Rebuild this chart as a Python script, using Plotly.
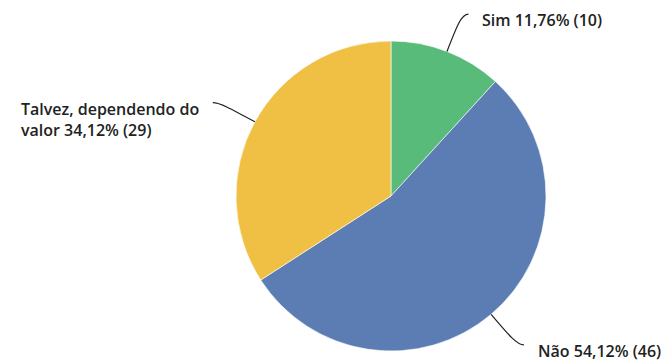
import math
import plotly.graph_objects as go

labels = ["Sim", "Não", "Talvez, dependendo do valor"]
label_text = ["Sim 11,76% (10)", "Não 54,12% (46)", "Talvez, dependendo do<br>valor 34,12% (29)"]
counts = [10, 46, 29]
percents = [11.76, 54.12, 34.12]
colors = ["#58BB7A", "#5B7DB3", "#EFC044"]

W, H = 668, 361
CX, CY, R = 391, 196, 155  # pie centre / radius in pixels

fig = go.Figure()
fig.add_trace(go.Pie(
    labels=labels, values=counts, sort=False, direction="clockwise", rotation=0,
    marker=dict(colors=colors, line=dict(color="white", width=0.6)),
    textinfo="none", hoverinfo="label+value+percent", showlegend=False,
    domain=dict(x=[(CX - R) / W, (CX + R) / W], y=[(H - CY - R) / H, (H - CY + R) / H]),
))

def px(x, y):
    return x / W, 1 - y / H

total = sum(counts)
shapes, annots = [], []
cum = 0
for lab, txt, c in zip(labels, label_text, counts):
    mid = (cum + c / 2) / total * 2 * math.pi
    cum += c
    sx, sy = math.sin(mid), -math.cos(mid)
    side = 1 if sx >= 0 else -1
    p0 = (CX + R * sx, CY + R * sy)
    c1 = (CX + (R + 28) * sx, CY + (R + 28) * sy)
    c2 = (CX + (R + 40) * sx, CY + (R + 40) * sy)
    end = (c2[0] + side * 7, c2[1])
    pts = [px(*p) for p in (p0, c1, c2, end)]
    path = "M {0[0]},{0[1]} C {1[0]},{1[1]} {2[0]},{2[1]} {3[0]},{3[1]}".format(*pts)
    shapes.append(dict(type="path", path=path, xref="paper", yref="paper",
                       line=dict(color="#222222", width=1.2)))
    nlines = txt.count("<br>") + 1
    ty = end[1] + 6 + (nlines - 1) * 11
    tx = end[0] + side * 12
    ax, ay = px(tx, ty)
    annots.append(dict(text=txt, x=ax, y=ay, xref="paper", yref="paper", showarrow=False,
                       xanchor="left" if side > 0 else "right", yanchor="middle", align="left",
                       font=dict(family="Open Sans", size=16, color="#222222", weight=600)))

fig.update_layout(
    width=W, height=H, margin=dict(l=0, r=0, t=0, b=0),
    paper_bgcolor="white", plot_bgcolor="white",
    shapes=shapes, annotations=annots,
)
fig.write_html("out.html")
